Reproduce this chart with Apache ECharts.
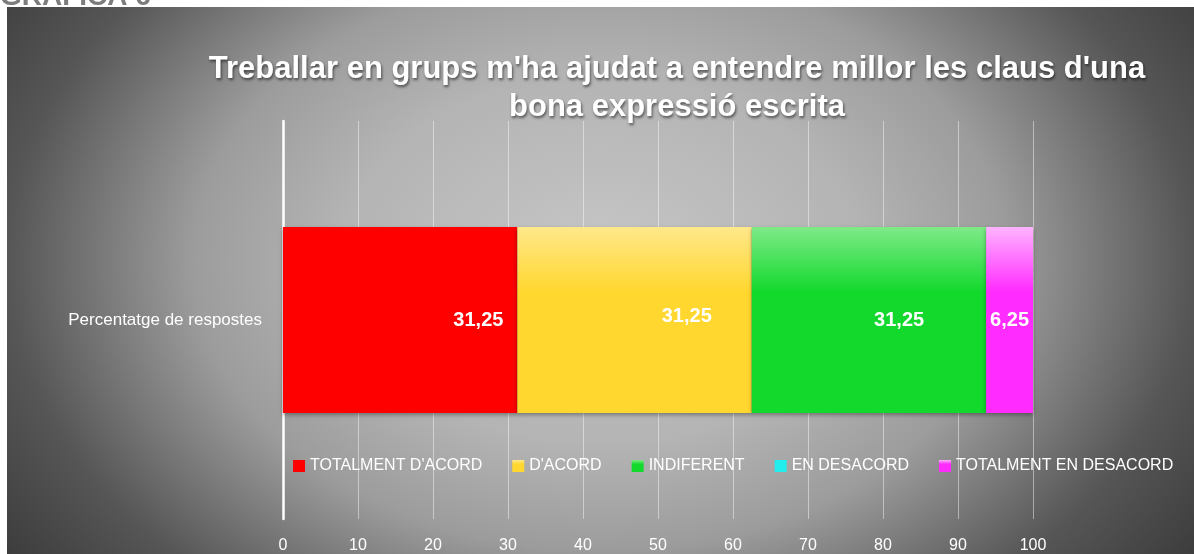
<!DOCTYPE html>
<html>
<head>
<meta charset="utf-8">
<script src="https://cdn.jsdelivr.net/npm/echarts@6/dist/echarts.min.js"></script>
<style>
  html, body { margin: 0; padding: 0; background: #fff; }
  #chart { width: 1194px; height: 554px; }
</style>
</head>
<body>
<div id="chart"></div>
<script>
const categories = ["Percentatge de respostes"];
const seriesNames = ["TOTALMENT D'ACORD", "D'ACORD", "INDIFERENT", "EN DESACORD", "TOTALMENT EN DESACORD"];
const seriesValues = [31.25, 31.25, 31.25, 0, 6.25];
const axisTicks = [0, 10, 20, 30, 40, 50, 60, 70, 80, 90, 100];

const vgrad = (top, bottom) => ({
  type: "linear", x: 0, y: 0, x2: 0, y2: 1,
  colorStops: [{ offset: 0, color: top }, { offset: 0.35, color: bottom }, { offset: 1, color: bottom }]
});

const barColors = [
  "#ff0000",
  vgrad("#ffe88a", "#ffd72e"),
  vgrad("#7fea88", "#12d92c"),
  "#22eeee",
  vgrad("#ffb4ff", "#ff2bff")
];
const labelStyle = [
  { position: "insideRight", distance: 14 },
  { position: "insideRight", distance: 40, offset: [0, -4] },
  { position: "insideRight", distance: 62 },
  { show: false },
  { position: "inside" }
];

// elliptical background: horizontal radius 740px, vertical 527px
const bgScale = 740 / 527;
const bgLocalW = 1187 / bgScale;

const chart = echarts.init(document.getElementById("chart"));

const option = {
  backgroundColor: "#ffffff",
  graphic: [
    {
      type: "rect", z: -100, silent: true,
      x: 7, y: 7, scaleX: bgScale,
      shape: { x: 0, y: 0, width: bgLocalW, height: 547 },
      style: {
        fill: {
          type: "radial", x: (600 - 7) / 1187, y: (260 - 7) / 547, r: 527 / 547,
          colorStops: [
            { offset: 0, color: "#c6c6c6" },
            { offset: 0.35, color: "#b4b4b4" },
            { offset: 0.55, color: "#9c9c9c" },
            { offset: 0.8, color: "#565656" },
            { offset: 1, color: "#393939" }
          ]
        }
      }
    }
  ],
  title: [
    {
      text: "Treballar en grups m'ha ajudat a entendre millor les claus d'una\nbona expressió escrita",
      left: 672,
      top: 45,
      textAlign: "center",
      textStyle: {
        color: "#ffffff",
        fontFamily: "'Liberation Sans', Arial",
        fontWeight: "bold",
        fontSize: 31,
        lineHeight: 38,
        textShadowColor: "rgba(0,0,0,0.55)",
        textShadowBlur: 3,
        textShadowOffsetX: 1,
        textShadowOffsetY: 2
      }
    },
    {
      text: "GRÀFICA 6",
      left: 0,
      top: -17,
      padding: 0,
      textStyle: {
        color: "#7c7c7c",
        fontFamily: "'Liberation Sans', Arial",
        fontWeight: "bold",
        fontSize: 28,
        lineHeight: 28
      }
    }
  ],
  legend: {
    data: seriesNames,
    left: 293,
    top: 458,
    width: 900,
    padding: 0,
    icon: "rect",
    itemWidth: 12,
    itemHeight: 12,
    itemGap: 30,
    textStyle: {
      color: "#ffffff",
      fontFamily: "'Liberation Sans', Arial",
      fontSize: 16
    }
  },
  grid: { left: 283, right: 161, top: 121, bottom: 35 },
  xAxis: {
    type: "value",
    min: axisTicks[0],
    max: axisTicks[axisTicks.length - 1],
    interval: axisTicks[1] - axisTicks[0],
    axisLine: { show: false },
    axisTick: { show: false },
    splitLine: { lineStyle: { color: "rgba(255,255,255,0.45)", width: 1 } },
    axisLabel: {
      color: "#ffffff",
      fontFamily: "'Liberation Sans', Arial",
      fontSize: 16,
      margin: 19
    }
  },
  yAxis: {
    type: "category",
    data: categories,
    axisLine: { show: true, lineStyle: { color: "#ffffff", width: 2.5 } },
    axisTick: { show: false },
    axisLabel: {
      color: "#ffffff",
      fontFamily: "'Liberation Sans', Arial",
      fontSize: 17,
      margin: 21
    }
  },
  series: seriesNames.map((name, i) => ({
    name: name,
    type: "bar",
    stack: "total",
    barWidth: 186,
    data: [seriesValues[i]],
    itemStyle: {
      color: barColors[i],
      shadowColor: "rgba(0,0,0,0.35)",
      shadowBlur: 4,
      shadowOffsetY: 2
    },
    label: Object.assign({
      show: true,
      color: "#ffffff",
      fontFamily: "'Liberation Sans', Arial",
      fontWeight: "bold",
      fontSize: 20,
      formatter: p => String(p.value).replace(".", ",")
    }, labelStyle[i])
  }))
};

chart.setOption(option);
</script>
</body>
</html>
